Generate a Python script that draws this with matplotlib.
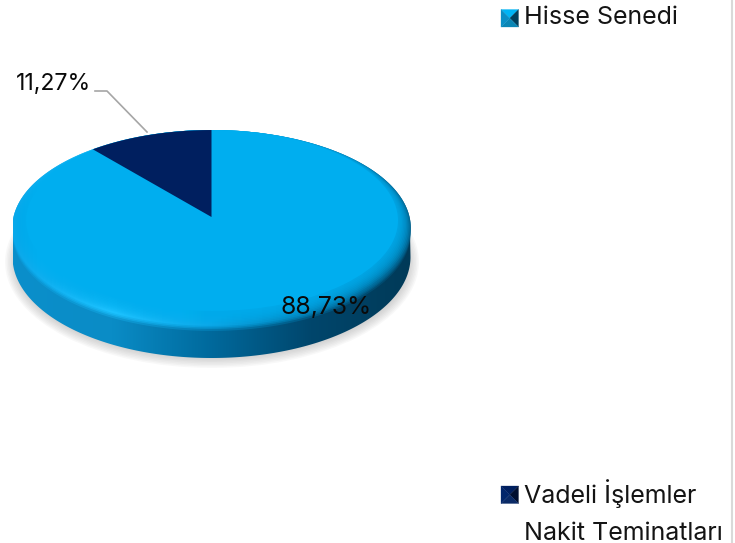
import numpy as np
import matplotlib
matplotlib.use("Agg")
import matplotlib.pyplot as plt
from matplotlib.patches import Polygon, Ellipse
from matplotlib.colors import LinearSegmentedColormap

categories = ["Hisse Senedi", "Vadeli İşlemler\nNakit Teminatları"]
shares = [88.73, 11.27]
label_texts = ["88,73%", "11,27%"]
FONT = "Inter"

W, H = 735, 543
fig = plt.figure(figsize=(W / 100, H / 100), dpi=100)
ax = fig.add_axes([0, 0, 1, 1])
ax.set_xlim(0, W)
ax.set_ylim(H, 0)
ax.axis("off")

CX, K, C, A, B = 211.5, 198.0, 0.112, -72.4, 217.0


def project(t):
    """Angle clockwise from the top of the disc -> picture position (perspective)."""
    u, v = np.sin(t), np.cos(t)
    w = 1 + C * v
    return CX + K * u / w, (A * v + B) / w


def ring(t0=0.0, t1=2 * np.pi, n=360):
    x, y = project(np.linspace(t0, t1, n))
    return np.column_stack([x, y])


def hgrad(colors, clip, z, alpha=1.0):
    cmap = LinearSegmentedColormap.from_list("g", colors)
    im = ax.imshow(np.linspace(0, 1, 256)[None, :], cmap=cmap, aspect="auto", alpha=alpha,
                   extent=[13, 411, 370, 120], zorder=z, interpolation="bilinear")
    im.set_clip_path(clip)
    ax.set_xlim(0, W)
    ax.set_ylim(H, 0)


# soft drop shadow
for i in range(8):
    ax.add_patch(Ellipse((212, 262), 2 * (207 - i * 1.5), 2 * (106 - i * 1.5),
                         fc="#808080", ec="none", alpha=0.05, zorder=1))

# side wall
top = ring()
angles = np.linspace(np.pi / 2, 3 * np.pi / 2, 200)
body_x = CX + 199 * np.sin(angles)
body_y = 257 - 101 * np.cos(angles)
body_pts = np.vstack([[[13, 232], [410, 232]], np.column_stack([body_x, body_y])])
body = Polygon(body_pts, closed=True, fc="none", ec="none")
ax.add_patch(body)
hgrad(["#0B8FCB", "#0A8CC6", "#00699C", "#00466C", "#003A58"], body, 2)

# bevel of the top face, fading softly into the side wall
bevel_colors = ["#0AA8EA", "#1CC2FF", "#0AA8E8", "#0086BE", "#00628E"]
for dy, alpha in [(5, 0.3), (3, 0.45), (1.5, 0.6), (0, 1.0)]:
    pts = top.copy()
    pts[:, 1] += dy * (pts[:, 1] > 228)
    clip = Polygon(pts, closed=True, fc="none", ec="none")
    ax.add_patch(clip)
    hgrad(bevel_colors, clip, 3, alpha)

# flat top face with a soft edge
n_steps = 10
for i in range(n_steps):
    f = i / (n_steps - 1)
    rx = 198 - 12 * f
    bottom = 324 - 13 * f
    ax.add_patch(Ellipse((212, (130 + bottom) / 2), 2 * rx, bottom - 130,
                         fc="#00AEEF", ec="none", alpha=0.2 if i < n_steps - 1 else 1, zorder=4))

# dark slice, sweeping back from the top
theta = 2 * np.pi * shares[1] / sum(shares)
edge = ring(-theta, 0, 60)
ax.add_patch(Polygon(np.vstack([[(CX, B)], edge]), closed=True, fc="#001F5F", ec="none", zorder=5))

# labels
ax.text(326.5, 307, label_texts[0], ha="center", va="center", fontsize=17.8,
        family=FONT, color="#0A0A0A", zorder=7)
ax.text(54, 84, label_texts[1], ha="center", va="center", fontsize=16.6,
        family=FONT, color="#0A0A0A", zorder=7)
ax.plot([95, 107, 147], [91, 91, 132], color="#A6A6A6", lw=1.2, zorder=6)


def legend_key(x, y, s, left_c, top_c, right_c, bottom_c):
    cx, cy = x + s / 2, y + s / 2
    corners = [(x, y), (x + s, y), (x + s, y + s), (x, y + s)]
    for (a, b), col in zip([(0, 1), (1, 2), (2, 3), (3, 0)], [top_c, right_c, bottom_c, left_c]):
        ax.add_patch(Polygon([corners[a], corners[b], (cx, cy)], fc=col, ec=col, lw=0.2, zorder=6))


legend_key(501, 9.5, 17.5, "#0A8FC6", "#00B4F5", "#013F5C", "#0A86B5")
legend_key(501, 486, 17.5, "#02266B", "#001F5F", "#000F30", "#0A2A66")

ax.text(524, 18, categories[0], ha="left", va="center", fontsize=18, family=FONT, color="#141414")
l1, l2 = categories[1].split("\n")
ax.text(524, 494, l1, ha="left", va="center", fontsize=18, family=FONT, color="#141414")
ax.text(524, 533, l2, ha="left", va="center", fontsize=18, family=FONT, color="#141414")

# thin frame edge at the right of the picture
ax.plot([732.5, 732.5], [0, H], color="#D9D9D9", lw=1.5, zorder=1)

fig.savefig("out.png", dpi=100, facecolor="white")
